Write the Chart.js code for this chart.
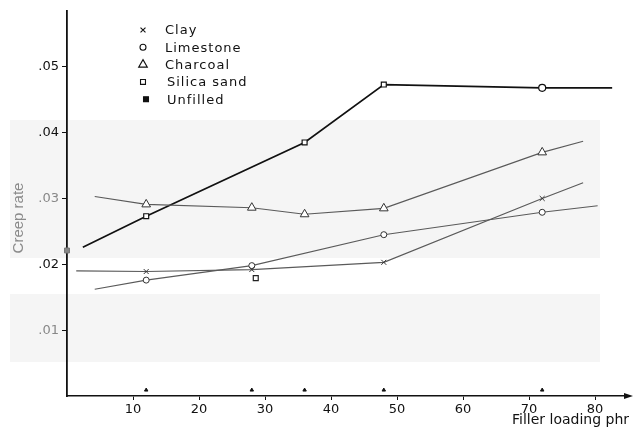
<!DOCTYPE html>
<html>
<head>
<meta charset="utf-8">
<script src="https://cdn.jsdelivr.net/npm/chart.js@4"></script>
<style>
  html, body { margin: 0; padding: 0; background: #fff; }
  #wrap { width: 634px; height: 430px; }
</style>
</head>
<body>
<div id="wrap"><canvas id="creepChart"></canvas></div>
<script>
// filler loading (phr) and creep rate; first and last points are line ends only
const clayLoading = [1.4, 12, 28, 48, 72, 78.2];
const clayRate = [0.0190, 0.0189, 0.0192, 0.0203, 0.0300, 0.0324];

const limestoneLoading = [4.2, 12, 28, 48, 72, 80.4];
const limestoneRate = [0.0162, 0.0176, 0.0198, 0.0245, 0.0279, 0.0289];

const charcoalLoading = [4.2, 12, 28, 36, 48, 72, 78.2];
const charcoalRate = [0.0303, 0.0291, 0.0286, 0.0276, 0.0285, 0.0370, 0.0387];

const silicaLoading = [2.4, 12, 36, 48, 72, 82.6];
const silicaRate = [0.0226, 0.0273, 0.0385, 0.0473, 0.0468, 0.0468];

const silicaExtraLoading = [28.6];
const silicaExtraRate = [0.0179];

const unfilledLoading = [0];
const unfilledRate = [0.0221];

const markedLoadings = [12, 28, 36, 48, 72];

const xTicks = [10, 20, 30, 40, 50, 60, 70, 80];
const yTicks = [0.01, 0.02, 0.03, 0.04, 0.05];
const yTickLabels = ['.01', '.02', '.03', '.04', '.05'];

const legendLabels = ['Clay', 'Limestone', 'Charcoal', 'Silica sand', 'Unfilled'];

const pts = (xs, ys) => xs.map((x, i) => ({ x: x, y: ys[i] }));

// hide markers on the line ends
const innerOnly = (r) => (ctx) => {
    const n = ctx.dataset.data.length;
    return (ctx.dataIndex === 0 || ctx.dataIndex === n - 1) ? 0 : r;
};

const lineGrey = '#5a5a5a';

const datasets = [
    {
        label: 'Clay',
        data: pts(clayLoading, clayRate),
        showLine: true,
        borderColor: lineGrey,
        borderWidth: 1.1,
        pointStyle: 'crossRot',
        pointRadius: innerOnly(3.5),
        pointBorderColor: '#333',
        pointBorderWidth: 1,
        pointBackgroundColor: '#fff'
    },
    {
        label: 'Limestone',
        data: pts(limestoneLoading, limestoneRate),
        showLine: true,
        borderColor: lineGrey,
        borderWidth: 1.1,
        pointStyle: 'circle',
        pointRadius: innerOnly(3),
        pointBorderColor: '#333',
        pointBorderWidth: 1,
        pointBackgroundColor: '#fff'
    },
    {
        label: 'Charcoal',
        data: pts(charcoalLoading, charcoalRate),
        showLine: true,
        borderColor: lineGrey,
        borderWidth: 1.1,
        pointStyle: 'triangle',
        pointRadius: innerOnly(5),
        pointBorderColor: '#333',
        pointBorderWidth: 1,
        pointBackgroundColor: '#fff'
    },
    {
        label: 'Silica sand',
        data: pts(silicaLoading, silicaRate),
        showLine: true,
        borderColor: '#111',
        borderWidth: 1.7,
        pointStyle: ['rect', 'rect', 'rect', 'rect', 'circle', 'rect'],
        pointRadius: innerOnly(3.5),
        pointBorderColor: '#111',
        pointBorderWidth: 1.2,
        pointBackgroundColor: '#fff'
    },
    {
        label: 'Silica sand',
        data: pts(silicaExtraLoading, silicaExtraRate),
        showLine: false,
        pointStyle: 'rect',
        pointRadius: 3.5,
        pointBorderColor: '#222',
        pointBorderWidth: 1.2,
        pointBackgroundColor: '#fff'
    },
    {
        label: 'Unfilled',
        data: pts(unfilledLoading, unfilledRate),
        showLine: false,
        clip: false,
        pointStyle: 'rect',
        pointRadius: 3.5,
        pointBorderColor: '#777',
        pointBackgroundColor: '#888'
    },
    {
        label: 'marks',
        data: markedLoadings.map(x => ({ x: x, y: 0.0009 })),
        showLine: false,
        pointStyle: 'triangle',
        pointRadius: 2,
        pointBorderColor: '#111',
        pointBackgroundColor: '#111'
    }
];

const legendMarkers = [
    { style: 'crossRot', r: 3.5, fill: '#fff' },
    { style: 'circle', r: 3, fill: '#fff' },
    { style: 'triangle', r: 5, fill: '#fff' },
    { style: 'rect', r: 3.5, fill: '#fff' },
    { style: 'rect', r: 3.5, fill: '#111' }
];

const extras = {
    id: 'extras',
    beforeDraw(chart) {
        const c = chart.ctx;
        // faint scan shading
        c.save();
        c.fillStyle = '#f5f5f5';
        c.fillRect(10, 120, 590, 138);
        c.fillRect(10, 294, 590, 68);
        c.restore();
    },
    afterDraw(chart) {
        const c = chart.ctx;
        const area = chart.chartArea;
        c.save();
        // arrow at the end of the x axis
        c.fillStyle = '#111';
        c.beginPath();
        c.moveTo(area.right + 5, area.bottom);
        c.lineTo(area.right - 4, area.bottom - 3);
        c.lineTo(area.right - 4, area.bottom + 3);
        c.closePath();
        c.fill();

        // legend
        c.font = '13px "DejaVu Sans"';
        c.letterSpacing = '1px';
        c.textBaseline = 'middle';
        c.fillStyle = '#111';
        const lx = 143, ly = 30, step = 17.3;
        legendLabels.forEach((label, i) => {
            const m = legendMarkers[i];
            const y = ly + i * step;
            c.strokeStyle = '#111';
            c.lineWidth = 1.1;
            c.fillStyle = m.fill;
            Chart.helpers.drawPoint(c, { pointStyle: m.style, radius: m.r, borderWidth: 1.1 }, lx + (i === 4 ? 3 : 0), y);
            c.fillStyle = '#111';
            c.fillText(label, lx + 22 + (i > 2 ? 2 : 0), y + 1);
        });

        // axis titles
        c.letterSpacing = '0px';
        c.fillStyle = '#111';
        c.font = '14px "DejaVu Sans"';
        c.textBaseline = 'alphabetic';
        c.textAlign = 'left';
        c.fillText('Filler loading phr', 512, 424);

        c.translate(19, 218);
        c.rotate(-Math.PI / 2);
        c.textAlign = 'center';
        c.textBaseline = 'middle';
        c.fillStyle = '#8a8a8a';
        c.font = '15px "Liberation Sans"';
        c.fillText('Creep rate', 0, 0);
        c.restore();
    }
};

new Chart(document.getElementById('creepChart'), {
    type: 'scatter',
    data: { datasets: datasets },
    options: {
        responsive: true,
        maintainAspectRatio: false,
        animation: false,
        layout: { padding: { top: 10, right: 6, left: 0, bottom: 0 } },
        elements: { line: { tension: 0 } },
        plugins: {
            legend: { display: false },
            tooltip: { enabled: false }
        },
        scales: {
            x: {
                type: 'linear',
                min: 0,
                max: 85,
                afterBuildTicks: (scale) => { scale.ticks = xTicks.map(v => ({ value: v })); },
                afterFit: (scale) => { scale.height = 34; },
                grid: { drawOnChartArea: false, tickLength: 4, color: '#111' },
                border: { color: '#111', width: 1.6 },
                ticks: {
                    color: '#111',
                    font: { family: 'DejaVu Sans', size: 13 },
                    padding: 2,
                    maxRotation: 0
                }
            },
            y: {
                type: 'linear',
                min: 0,
                max: 0.0585,
                afterBuildTicks: (scale) => { scale.ticks = yTicks.map(v => ({ value: v })); },
                afterFit: (scale) => { scale.width = 67; },
                grid: { drawOnChartArea: false, tickLength: 5, color: '#111' },
                border: { color: '#111', width: 1.8 },
                ticks: {
                    color: (ctx) => (ctx.index === 0 || ctx.index === 2 ? '#888' : '#111'),
                    font: { family: 'DejaVu Sans', size: 13 },
                    padding: 3,
                    callback: (v, i) => yTickLabels[i]
                }
            }
        }
    },
    plugins: [extras]
});
</script>
</body>
</html>
